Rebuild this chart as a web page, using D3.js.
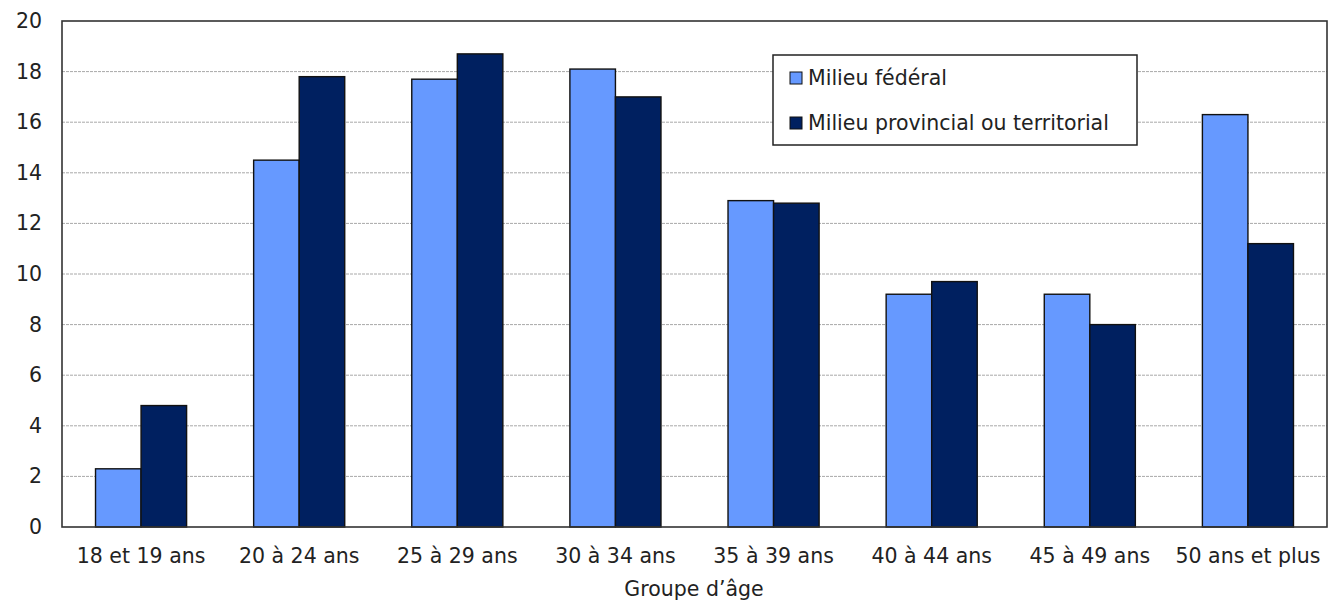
<!DOCTYPE html>
<html>
<head>
<meta charset="utf-8">
<script src="https://cdn.jsdelivr.net/npm/d3@7"></script>
<style>
  body { margin: 0; background: #fff; }
  svg { display: block; }
  text { font-family: "DejaVu Sans", Verdana, sans-serif; fill: #222; }
</style>
</head>
<body>
<svg id="chart" width="1328" height="602"></svg>
<script>
// Répartition par groupe d'âge (%)
const categories = ["18 et 19 ans", "20 à 24 ans", "25 à 29 ans", "30 à 34 ans",
                    "35 à 39 ans", "40 à 44 ans", "45 à 49 ans", "50 ans et plus"];
const federal    = [2.3, 14.5, 17.7, 18.1, 12.9, 9.2, 9.2, 16.3];
const provincial = [4.8, 17.8, 18.7, 17.0, 12.8, 9.7, 8.0, 11.2];
const seriesNames = ["Milieu fédéral", "Milieu provincial ou territorial"];
const seriesColors = ["#6699FF", "#002060"];
const yTicks = [0, 2, 4, 6, 8, 10, 12, 14, 16, 18, 20];
const xTitle = "Groupe d’âge";

const FONT = 20.5;
const svg = d3.select("#chart");
const m = { left: 62, right: 1327, top: 21, bottom: 527 };

const x = d3.scaleBand().domain(categories).range([m.left, m.right]).paddingInner(0).paddingOuter(0);
const barW = x.bandwidth() * 0.288;
const y = d3.scaleLinear().domain([0, 20]).range([m.bottom, m.top]);

// grid lines
svg.append("g").selectAll("line")
  .data(yTicks.filter(t => t > 0 && t < 20))
  .join("line")
  .attr("x1", m.left).attr("x2", m.right)
  .attr("y1", d => y(d)).attr("y2", d => y(d))
  .attr("stroke", "#a8a8a8").attr("stroke-width", 1)
  .attr("stroke-dasharray", "3,1");

// bars
const series = [federal, provincial];
series.forEach((vals, si) => {
  svg.append("g").selectAll("rect")
    .data(vals)
    .join("rect")
    .attr("x", (d, i) => x(categories[i]) + x.bandwidth() / 2 + (si - 1) * barW)
    .attr("y", d => y(d))
    .attr("width", barW)
    .attr("height", d => y(0) - y(d))
    .attr("fill", seriesColors[si])
    .attr("stroke", "#111").attr("stroke-width", 1.4);
});

// plot frame
svg.append("rect")
  .attr("x", m.left).attr("y", m.top)
  .attr("width", m.right - m.left).attr("height", m.bottom - m.top)
  .attr("fill", "none").attr("stroke", "#333").attr("stroke-width", 1.6);

// y axis labels
const yAxis = d3.axisLeft(y).tickValues(yTicks).tickSize(0).tickPadding(20);
const gy = svg.append("g").attr("transform", `translate(${m.left},0)`).call(yAxis);
gy.select(".domain").remove();
gy.selectAll("text").attr("font-size", FONT).attr("font-family", "DejaVu Sans, Verdana, sans-serif").attr("fill", "#222");

// x axis labels
const xAxis = d3.axisBottom(x).tickSize(0).tickPadding(21);
const gx = svg.append("g").attr("transform", `translate(0,${m.bottom})`).call(xAxis);
gx.select(".domain").remove();
gx.selectAll("text").attr("font-size", FONT).attr("font-family", "DejaVu Sans, Verdana, sans-serif").attr("fill", "#222");

// x title
svg.append("text")
  .attr("x", 694).attr("y", 596)
  .attr("text-anchor", "middle").attr("font-size", FONT)
  .text(xTitle);

// legend
const lg = svg.append("g");
lg.append("rect").attr("x", 773).attr("y", 55).attr("width", 364).attr("height", 90)
  .attr("fill", "#fff").attr("stroke", "#222").attr("stroke-width", 1.5);
seriesNames.forEach((name, i) => {
  const cy = 78 + i * 45;
  lg.append("rect").attr("x", 790).attr("y", cy - 6).attr("width", 12).attr("height", 12)
    .attr("fill", seriesColors[i]).attr("stroke", "#111").attr("stroke-width", 1);
  lg.append("text").attr("x", 808).attr("y", cy).attr("dy", "0.36em")
    .attr("font-size", FONT).text(name);
});
</script>
</body>
</html>
